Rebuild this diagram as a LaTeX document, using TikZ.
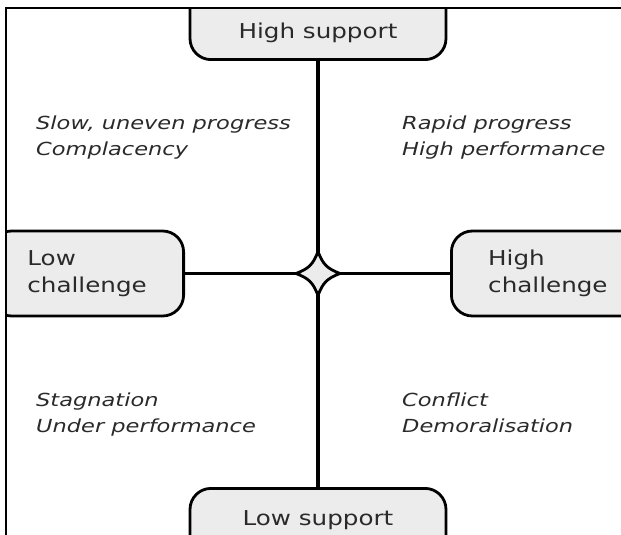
\documentclass[tikz,border=0pt]{standalone}
\usepackage{fontspec}
\setmainfont{DejaVu Sans}[FakeStretch=1.25]
\newfontfamily\boxfont{DejaVu Sans}[FakeStretch=1.2]
\usepackage{xcolor}
\definecolor{boxgray}{HTML}{ECECEC}
\definecolor{textgray}{HTML}{2A2A2A}
\tikzset{
  axisbox/.style={draw=black, line width=2.8pt, fill=boxgray, rounded corners=21pt,
    inner sep=0pt, text=textgray, font=\boxfont\fontsize{20.5}{27.5}\selectfont},
  axisline/.style={line width=3.2pt},
  quadtext/.style={anchor=north west, align=left, inner sep=0pt, text=textgray,
    font=\itshape\fontsize{18}{26}\selectfont}
}

\begin{document}
\begin{tikzpicture}[x=1pt,y=-1pt]
        \useasboundingbox (0,0) rectangle (621,535);
        \coordinate (hub) at (318,273.5);
        \begin{scope}
            \clip (6,8) rectangle (660,580);
            \node[axisbox, anchor=south, minimum width=256pt, text height=70pt, text depth=21pt] (highsup) at (318,61) {High support};
            \node[axisbox, anchor=north, minimum width=256pt, text height=37pt, text depth=60pt] (lowsup) at (318,487) {Low support};
            \node[axisbox, anchor=east, align=left, minimum width=193pt, minimum height=85pt] (lowchal) at (185,273.5) {Low\\challenge};
            \node[axisbox, anchor=west, align=left, minimum width=193pt, minimum height=85pt] (highchal) at (450,273.5) {High\\challenge};
        \end{scope}
        \draw[axisline] (highsup.south) -- (hub) -- (lowsup.north);
        \draw[axisline] (lowchal.east) -- (hub) -- (highchal.west);
        \begin{scope}[shift={(hub)}]
            \draw[line width=2.8pt, fill=boxgray] (0,-22) .. controls (5,-9) and (9,-5) .. (22,0)
                .. controls (9,5) and (5,9) .. (0,22) .. controls (-5,9) and (-9,5) .. (-22,0)
                .. controls (-9,-5) and (-5,-9) .. (0,-22) -- cycle;
        \end{scope}
        \draw[line width=2pt] (6,535) -- (6,8) -- (621,8);
        \node[quadtext] (slow) at (36,116) {Slow, uneven progress\\Complacency};
        \node[quadtext] (rapid) at (402,116) {Rapid progress\\High performance};
        \node[quadtext] (stag) at (36,393) {Stagnation\\Under performance};
        \node[quadtext] (conf) at (402,393) {Conflict\\Demoralisation};
    \end{tikzpicture}
\end{document}
